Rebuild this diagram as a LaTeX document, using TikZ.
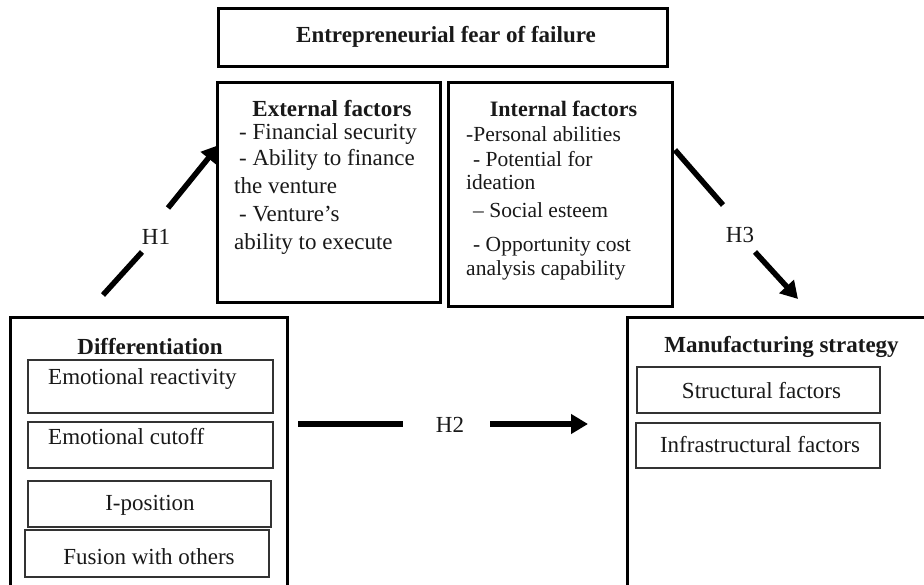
\documentclass[tikz,border=0pt]{standalone}
\usepackage{fontspec}
\setmainfont{Liberation Serif}
\usetikzlibrary{arrows.meta}
\tikzset{
  bigbox/.style={draw=black, line width=3pt, inner sep=0pt},
  subbox/.style={draw=black!80, line width=1.3pt, inner sep=0pt},
  txt/.style={inner sep=0pt, yshift=-2pt, text=black!90, font=\fontsize{23}{27}\selectfont},
  ttl/.style={inner sep=0pt, yshift=-2pt, text=black!90, font=\fontsize{23}{27}\selectfont\bfseries},
  ittl/.style={inner sep=0pt, yshift=-2pt, text=black!90, font=\fontsize{22}{26}\selectfont\bfseries},
  itxt/.style={inner sep=0pt, yshift=-2pt, text=black!90, font=\fontsize{21.5}{25}\selectfont},
  hline/.style={line width=5.5pt, black},
  harrow/.style={line width=5.5pt, black, -{Triangle[length=17pt,width=19pt]}},
  hlabel/.style={inner sep=0pt, yshift=-2pt, text=black!90, font=\fontsize{23}{27}\selectfont}
}
\begin{document}
\begin{tikzpicture}[x=1pt,y=-1pt]
\useasboundingbox (0,0) rectangle (924,585);
\clip (0,0) rectangle (924,585);
\fill[white] (0,0) rectangle (924,585);

% top box
\node[bigbox, minimum width=449, minimum height=58] (fear) at (442.5,38) {};
\node[ttl] (feart) at (446,35) {Entrepreneurial fear of failure};

% external factors
\node[bigbox, minimum width=223, minimum height=220] (ext) at (328.5,193) {};
\node[ttl] (extt) at (332,107) {External factors};
\node[txt, anchor=west] (ext1) at (239,132) {- Financial security};
\node[txt, anchor=west] (ext2) at (239,158) {- Ability to finance};
\node[txt, anchor=west] (ext3) at (234,184) {the venture};
\node[txt, anchor=west] (ext4) at (239,212) {- Venture’s};
\node[txt, anchor=west] (ext5) at (234,242) {ability to execute};

% internal factors
\node[bigbox, minimum width=224, minimum height=224] (int) at (560,195) {};
\node[ittl] (intt) at (563.5,107) {Internal factors};
\node[itxt, anchor=west] (int1) at (466,132) {-Personal abilities};
\node[itxt, anchor=west] (int2) at (473,157) {- Potential for};
\node[itxt, anchor=west] (int3) at (466,180) {ideation};
\node[itxt, anchor=west] (int4) at (473,208) {– Social esteem};
\node[itxt, anchor=west] (int5) at (473,245) {- Opportunity cost};
\node[itxt, anchor=west] (int6) at (466,268) {analysis capability};

% differentiation
\node[bigbox, minimum width=277, minimum height=302] (diff) at (148.5,469) {};
\node[ttl] (difft) at (150,345) {Differentiation};
\node[subbox, minimum width=245, minimum height=53] (er) at (150.5,386.5) {};
\node[txt, anchor=west] (ert) at (48,377) {Emotional reactivity};
\node[subbox, minimum width=245, minimum height=46] (ec) at (150.5,445) {};
\node[txt, anchor=west] (ect) at (48,435) {Emotional cutoff};
\node[subbox, minimum width=243, minimum height=46] (ip) at (149.5,504) {};
\node[txt] (ipt) at (150,503) {I-position};
\node[subbox, minimum width=244, minimum height=47] (fu) at (147,553.5) {};
\node[txt] (fut) at (149,555) {Fusion with others};

% manufacturing strategy
\node[bigbox, minimum width=333, minimum height=302] (mfg) at (793.5,469) {};
\node[ttl] (mfgt) at (781.5,345) {Manufacturing strategy};
\node[subbox, minimum width=243, minimum height=46] (sf) at (758.5,390) {};
\node[txt] (sft) at (761.5,389) {Structural factors};
\node[subbox, minimum width=244, minimum height=45] (inf) at (758,445.5) {};
\node[txt] (inft) at (760,443) {Infrastructural factors};

% H1
\coordinate (h1a) at (103,295);
\coordinate (h1b) at (142,252);
\coordinate (h1c) at (168,208);
\coordinate (h1d) at (219,145);
\draw[hline] (h1a) -- (h1b);
\draw[harrow] (h1c) -- (h1d);
\node[hlabel] (h1) at (156,235) {H1};

% H2
\coordinate (h2a) at (298,424);
\coordinate (h2b) at (403,424);
\coordinate (h2c) at (490,424);
\coordinate (h2d) at (588,424);
\draw[hline] (h2a) -- (h2b);
\draw[harrow] (h2c) -- (h2d);
\node[hlabel] (h2) at (450,423) {H2};

% H3
\coordinate (h3a) at (675,150);
\coordinate (h3b) at (723,205);
\coordinate (h3c) at (755,252);
\coordinate (h3d) at (798,299);
\draw[hline] (h3a) -- (h3b);
\draw[harrow] (h3c) -- (h3d);
\node[hlabel] (h3) at (740,233) {H3};
\end{tikzpicture}
\end{document}
